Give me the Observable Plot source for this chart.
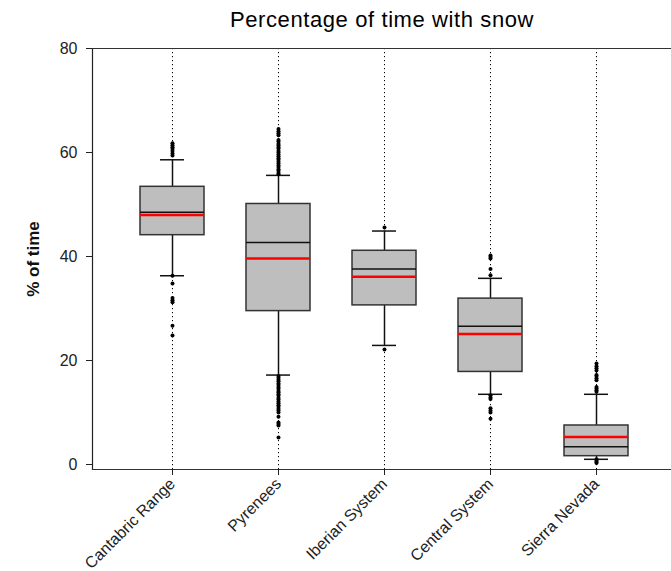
<!DOCTYPE html>
<html>
<head>
<meta charset="utf-8">
<script src="https://cdn.jsdelivr.net/npm/d3@7"></script>
<script src="https://cdn.jsdelivr.net/npm/@observablehq/plot@0.6"></script>
<style>
  html, body { margin: 0; padding: 0; background: #fff; }
</style>
</head>
<body>
<div id="chart"></div>
<script>
const title = "Percentage of time with snow";
const yLabel = "% of time";
const categories = ["Cantabric Range", "Pyrenees", "Iberian System", "Central System", "Sierra Nevada"];
const whiskerLow  = [36.3, 17.2, 22.9, 13.5, 1.0];
const q1          = [44.1, 29.5, 30.6, 17.8, 1.6];
const median      = [48.5, 42.7, 37.6, 26.6, 3.4];
const mean        = [48.0, 39.6, 36.1, 25.1, 5.3];
const q3          = [53.4, 50.1, 41.1, 31.9, 7.5];
const whiskerHigh = [58.6, 55.6, 44.9, 35.8, 13.5];
const outliers = [
  [59.4, 59.8, 60.3, 60.7, 61.0, 61.4, 61.8, 36.3, 34.8, 32.0, 31.6, 31.2, 26.7, 24.8],
  [55.8, 56.1, 56.5, 56.8, 57.2, 57.5, 57.9, 58.2, 58.6, 58.9, 59.3, 59.6, 60.0, 60.3, 60.7, 61.0, 61.4, 61.7, 62.1, 62.4, 63.3, 63.7, 64.1, 64.5,
   17.0, 16.7, 16.3, 16.0, 15.6, 15.3, 14.9, 14.6, 14.2, 13.9, 13.5, 13.2, 12.8, 12.5, 12.1, 11.8, 11.4, 11.1, 10.7, 10.4, 10.0, 9.2, 8.1, 7.8, 7.5, 5.2],
  [45.6, 22.1],
  [36.4, 37.6, 39.6, 39.9, 40.2, 13.3, 12.9, 12.6, 10.8, 10.4, 10.0, 8.8],
  [14.0, 14.3, 14.6, 14.9, 16.2, 16.6, 17.0, 17.2, 18.1, 18.5, 18.9, 19.4, 1.0, 0.7, 0.5, 0.3]
];
const yTicks = [0, 20, 40, 60, 80];

const stats = categories.map((c, i) => ({
  cat: c, lo: whiskerLow[i], q1: q1[i], med: median[i], mean: mean[i], q3: q3[i], hi: whiskerHigh[i]
}));
const pts = categories.flatMap((c, i) => outliers[i].map(v => ({cat: c, v})));

const chart = Plot.plot({
  width: 671,
  height: 571,
  marginLeft: 92,
  marginRight: 0,
  marginTop: 48,
  marginBottom: 102,
  style: {fontFamily: "'Liberation Sans', Arial, sans-serif", background: "#fff", color: "#222"},
  x: {type: "band", domain: categories, range: [117.85, 649.15], paddingInner: 0.4, paddingOuter: 0.2, label: null},
  y: {domain: [0, 80], range: [464, 48], label: null},
  marks: [
    Plot.ruleX(categories, {x: d => d, stroke: "#000", strokeWidth: 1, strokeDasharray: "1.2,2.8"}),
    Plot.ruleX(stats, {x: "cat", y1: "lo", y2: "q1", stroke: "#111", strokeWidth: 1.5}),
    Plot.ruleX(stats, {x: "cat", y1: "q3", y2: "hi", stroke: "#111", strokeWidth: 1.5}),
    Plot.tickY(stats, {x: "cat", y: "lo", stroke: "#111", strokeWidth: 1.5, insetLeft: 20, insetRight: 20}),
    Plot.tickY(stats, {x: "cat", y: "hi", stroke: "#111", strokeWidth: 1.5, insetLeft: 20, insetRight: 20}),
    Plot.barY(stats, {x: "cat", y1: "q1", y2: "q3", fill: "#bebebe", stroke: "#333", strokeWidth: 1.5}),
    Plot.tickY(stats, {x: "cat", y: "med", stroke: "#111", strokeWidth: 1.5}),
    Plot.tickY(stats, {x: "cat", y: "mean", stroke: "#ff0000", strokeWidth: 2.5}),
    Plot.dot(pts, {x: "cat", y: "v", r: 2, fill: "#000", stroke: null}),
    Plot.frame({anchor: "left", stroke: "#222", strokeWidth: 1.2}),
    Plot.frame({anchor: "top", stroke: "#333", strokeWidth: 1.2}),
    Plot.frame({anchor: "bottom", stroke: "#333", strokeWidth: 1.2}),
    Plot.axisY({ticks: yTicks, tickSize: 6, tickPadding: 9, fontSize: 16, label: null, stroke: "#222"}),
    Plot.axisX({tickSize: 6, tickRotate: -45, fontSize: 16, label: null, stroke: "#222"}),
    Plot.text([yLabel], {frameAnchor: "left", dx: -59, rotate: -90, textAnchor: "middle", lineAnchor: "middle", fontSize: 17, fontWeight: "bold", fill: "#111"}),
    Plot.text([title], {frameAnchor: "top", dy: -29, textAnchor: "middle", lineAnchor: "middle", fontSize: 22, fill: "#000"})
  ]
});
chart.querySelectorAll("text").forEach(t => {
  if (t.textContent === title) t.setAttribute("letter-spacing", "0.6");
});
document.getElementById("chart").appendChild(chart);
</script>
</body>
</html>
